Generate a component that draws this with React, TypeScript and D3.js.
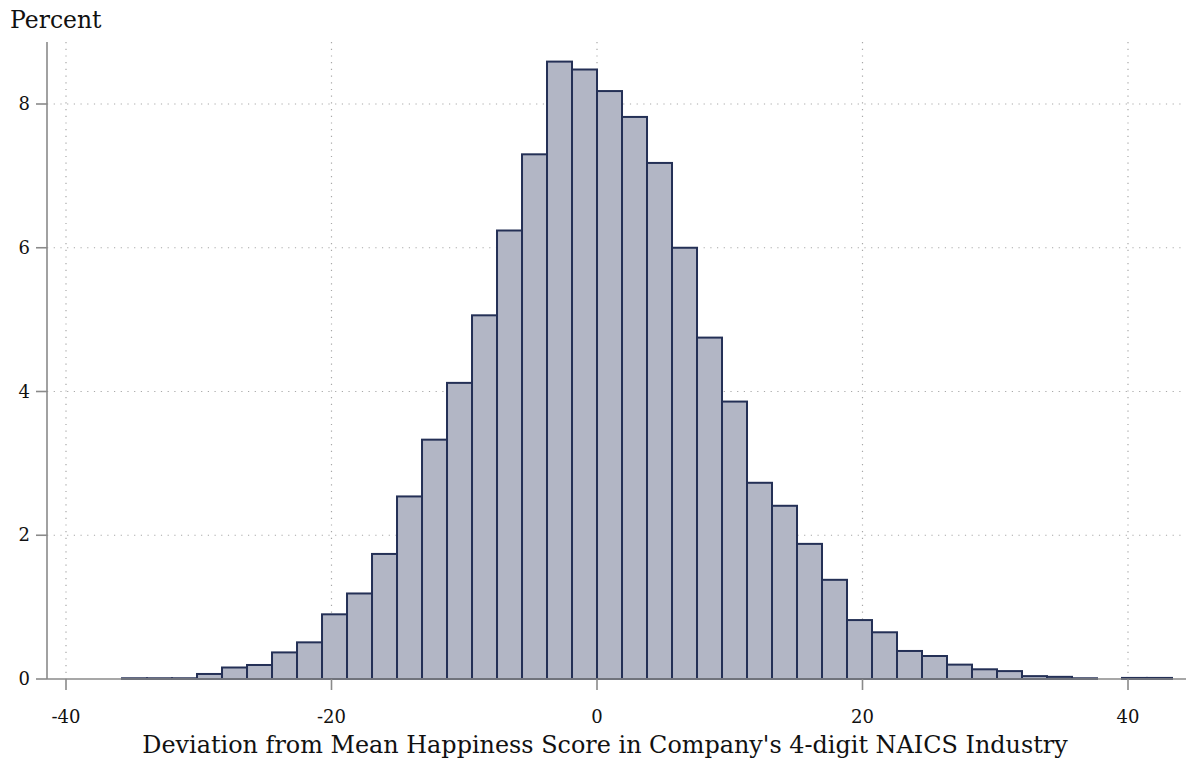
import React from "react";
import * as d3 from "d3";

const binStart = -35.78;
const binWidth = 1.8832;
const percents = [
  0.01, 0.01, 0.01, 0.07, 0.16, 0.195, 0.37, 0.51, 0.9, 1.19,
  1.74, 2.54, 3.33, 4.12, 5.06, 6.24, 7.3, 8.59, 8.48, 8.18,
  7.82, 7.18, 6.0, 4.75, 3.86, 2.73, 2.41, 1.88, 1.38, 0.82,
  0.65, 0.39, 0.32, 0.2, 0.135, 0.11, 0.04, 0.03, 0.01, 0.0,
  0.015, 0.015,
];
const xTicks = [-40, -20, 0, 20, 40];
const yTicks = [0, 2, 4, 6, 8];
const xTitle = "Deviation from Mean Happiness Score in Company's 4-digit NAICS Industry";
const yTitle = "Percent";

export default function App() {
  const W = 1186, H = 763;
  const x = d3.scaleLinear().domain([-40, 40]).range([66, 1128]);
  const y = d3.scaleLinear().domain([0, 8]).range([679, 104]);
  const left = 47, right = 1186, top = 42, bottom = 679;
  const font = "'DejaVu Serif', 'Liberation Serif', serif";
  return (
    <svg width={W} height={H} style={{ position: "absolute", left: 0, top: 0, background: "#fff" }}>
      {/* grid */}
      {yTicks.filter((t) => t > 0).map((t) => (
        <line key={"gy" + t} x1={left} x2={right} y1={y(t)} y2={y(t)}
          stroke="#a8a8a8" strokeWidth={1.2} strokeDasharray="1.2 5.5" />
      ))}
      {xTicks.map((t) => (
        <line key={"gx" + t} x1={x(t)} x2={x(t)} y1={top} y2={bottom}
          stroke="#a8a8a8" strokeWidth={1.2} strokeDasharray="1.2 5.5" />
      ))}
      {/* bars */}
      {percents.map((p, i) => {
        const x0 = x(binStart + i * binWidth);
        const x1 = x(binStart + (i + 1) * binWidth);
        if (p <= 0) return null;
        return (
          <rect key={"b" + i} x={x0} y={y(p)} width={x1 - x0} height={y(0) - y(p)}
            fill="#b2b6c5" stroke="#243056" strokeWidth={2} />
        );
      })}
      {/* axes */}
      <line x1={left} x2={left} y1={top} y2={bottom} stroke="#8a8a8a" strokeWidth={1.6} />
      <line x1={left} x2={right} y1={bottom} y2={bottom} stroke="#8a8a8a" strokeWidth={1.6} />
      {yTicks.map((t) => (
        <g key={"yt" + t}>
          <line x1={36} x2={left} y1={y(t)} y2={y(t)} stroke="#8a8a8a" strokeWidth={1.6} />
          <text x={30} y={y(t) + 6} textAnchor="end" fontFamily={font} fontSize={18} fill="#111">{t}</text>
        </g>
      ))}
      {xTicks.map((t) => (
        <g key={"xt" + t}>
          <line x1={x(t)} x2={x(t)} y1={bottom} y2={690} stroke="#8a8a8a" strokeWidth={1.6} />
          <text x={x(t)} y={723} textAnchor="middle" fontFamily={font} fontSize={18} fill="#111">{t}</text>
        </g>
      ))}
      <text x={10} y={28} fontFamily={font} fontSize={23.5} fill="#111">{yTitle}</text>
      <text x={605} y={753} textAnchor="middle" fontFamily={font} fontSize={23.9} fill="#111">{xTitle}</text>
    </svg>
  );
}
